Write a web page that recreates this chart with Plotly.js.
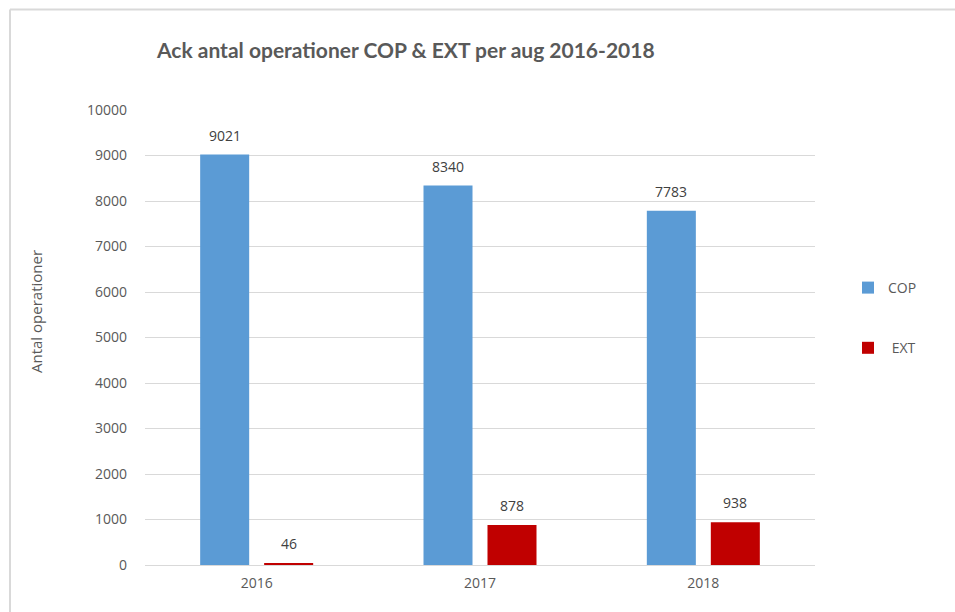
<!DOCTYPE html>
<html>
<head>
<meta charset="utf-8">
<script src="https://cdn.plot.ly/plotly-3.0.1.min.js"></script>
<style>
html,body{margin:0;padding:0;background:#fff;}
#chart{width:955px;height:612px;}
</style>
</head>
<body>
<div id="chart"></div>
<script>
var categories = ['2016', '2017', '2018'];
var copValues = [9021, 8340, 7783];
var extValues = [46, 878, 938];
var seriesNames = ['COP', 'EXT'];
var yTicks = [0, 1000, 2000, 3000, 4000, 5000, 6000, 7000, 8000, 9000, 10000];

var W = 955, H = 612;
var L = 145, R = 140, T = 110, B = 47;
var pw = W - L - R, ph = H - T - B;
function px(x) { return (x - L) / pw; }
function py(y) { return (H - B - y) / ph; }

var tickFont = {family: 'Open Sans, sans-serif', size: 14, color: '#595959'};

var traces = [
  {type: 'bar', x: categories, y: copValues, name: seriesNames[0], legendgroup: 'a',
   marker: {color: '#5b9bd5'}, hoverinfo: 'x+y'},
  {type: 'bar', x: categories, y: extValues, name: ' ' + seriesNames[1], legendgroup: 'b',
   marker: {color: '#c00000'}, hoverinfo: 'x+y'}
];

var annotations = [];
[copValues, extValues].forEach(function (vals, si) {
  vals.forEach(function (v, i) {
    annotations.push({
      x: i, y: v, xref: 'x', yref: 'y',
      text: String(v), showarrow: false,
      xanchor: 'center', yanchor: 'bottom',
      xshift: si === 0 ? -32 : 32, yshift: 8,
      font: {family: 'Open Sans, sans-serif', size: 14, color: '#404040'}
    });
  });
});
annotations.push({
  x: px(36), y: py(312), xref: 'paper', yref: 'paper',
  text: 'Antal operationer', textangle: -90, showarrow: false,
  xanchor: 'center', yanchor: 'middle',
  font: {family: 'Open Sans, sans-serif', size: 15, color: '#595959'}
});

var layout = {
  width: W, height: H,
  margin: {l: L, r: R, t: T, b: B, pad: 0},
  paper_bgcolor: '#fff', plot_bgcolor: '#fff',
  title: {
    text: 'Ack antal operationer COP &amp; EXT per aug 2016-2018',
    xref: 'paper', x: px(157), xanchor: 'left',
    yref: 'container', y: 1 - 51 / H, yanchor: 'middle',
    font: {family: 'Lato, sans-serif', size: 21, color: '#595959', weight: 'bold'}
  },
  barmode: 'group', bargap: 0.427, bargroupgap: 0.234,
  xaxis: {
    type: 'category', range: [-0.5, 2.5], autorange: false,
    showgrid: false, zeroline: false,
    showline: false, ticks: '', tickfont: tickFont, ticklabelstandoff: 8
  },
  yaxis: {
    range: [0, 10000], autorange: false, tickvals: yTicks, ticktext: yTicks.map(String),
    showgrid: true, gridcolor: '#d9d9d9', gridwidth: 1,
    zeroline: true, zerolinecolor: '#d9d9d9', zerolinewidth: 1,
    showline: false, ticks: '', tickfont: tickFont, ticklabelstandoff: 17
  },
  showlegend: true,
  legend: {
    x: px(848), xanchor: 'left', y: py(272), yanchor: 'top',
    font: {family: 'Open Sans, sans-serif', size: 14, color: '#595959'},
    tracegroupgap: 39, bgcolor: 'rgba(0,0,0,0)', borderwidth: 0
  },
  annotations: annotations,
  shapes: [
    {type: 'line', xref: 'paper', yref: 'paper', x0: px(10), x1: px(10), y0: py(9.5), y1: py(H + 5),
     line: {color: '#d9d9d9', width: 2}},
    {type: 'line', xref: 'paper', yref: 'paper', x0: px(10), x1: px(W + 5), y0: py(9.5), y1: py(9.5),
     line: {color: '#d9d9d9', width: 2}}
  ]
};

Plotly.newPlot('chart', traces, layout, {displayModeBar: false, staticPlot: true});
</script>
</body>
</html>
